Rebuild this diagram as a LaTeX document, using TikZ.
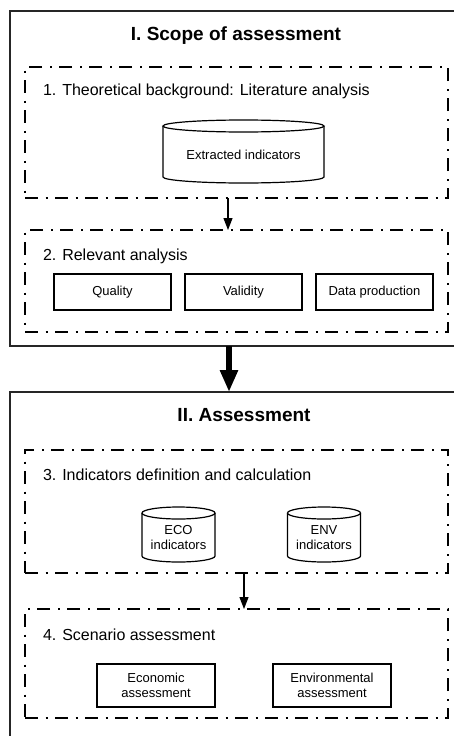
\documentclass[tikz,border=0pt]{standalone}
\usepackage{fontspec}
\setmainfont{Liberation Sans}
\usetikzlibrary{arrows.meta}
\newcommand{\drawcyl}[2]{%
  \draw[boxline] (#1.north west) -- ([yshift=6pt]#1.south west)
    arc[start angle=180,end angle=360,x radius=#2,y radius=6pt]
    -- (#1.north east);
  \draw[boxline,fill=white] (#1.north) ellipse[x radius=#2,y radius=6pt];}
\begin{document}
\begin{tikzpicture}[x=1pt,y=-1pt,
  every node/.style={inner sep=0pt,outer sep=0pt},
  frame/.style={draw=black!85,line width=1.4pt,anchor=north west},
  region/.style={draw=black,line width=1.4pt,dash pattern=on 13pt off 7.5pt on 2pt off 7.5pt,anchor=north west},
  boxline/.style={draw=black,line width=1.2pt},
  proc/.style={boxline,minimum width=117pt,minimum height=36pt,font=\fontsize{13}{15.5}\selectfont,align=center},
  cyl/.style={font=\fontsize{13}{15.5}\selectfont,align=center},
  head/.style={font=\fontsize{19}{22}\selectfont\bfseries},
  lab/.style={anchor=west,font=\fontsize{16}{19}\selectfont},
  arr/.style={-{Triangle[length=12pt,width=9pt]},line width=1.2pt},
  bigarr/.style={-{Triangle[length=22pt,width=17pt]},line width=6pt}]
\useasboundingbox (0,0) rectangle (454,736);
\clip (0,0) rectangle (454,736);
% outer frames
\node[frame,minimum width=470pt,minimum height=335pt] (S1) at (10,11) {};
\node[frame,minimum width=470pt,minimum height=380pt] (S2) at (10,392) {};
\node[head] (t1) at (236,36) {I. Scope of assessment};
\node[head] (t2) at (244,415) {II. Assessment};
% dashed regions
\node[region,minimum width=423pt,minimum height=131pt] (b1) at (25,67) {};
\node[region,minimum width=423pt,minimum height=102pt] (b2) at (25,230) {};
\node[region,minimum width=423pt,minimum height=123pt] (b3) at (25,450) {};
\node[region,minimum width=423pt,minimum height=109pt] (b4) at (25,609) {};
\node[lab] (l1) at (43,91) {1. Theoretical background: Literature analysis};
\node[lab] (l2) at (43,256) {2. Relevant analysis};
\node[lab] (l3) at (43,475) {3. Indicators definition and calculation};
\node[lab] (l4) at (43,635) {4. Scenario assessment};
% cylinders
\node[cyl,minimum width=161pt,minimum height=57pt] (ext) at (243.5,154.5) {Extracted indicators};
\drawcyl{ext}{80.5pt}
\node[cyl,minimum width=73pt,minimum height=49pt] (eco) at (178.5,537.5) {ECO\\indicators};
\drawcyl{eco}{36.5pt}
\node[cyl,minimum width=73pt,minimum height=49pt] (env) at (324,537.5) {ENV\\indicators};
\drawcyl{env}{36.5pt}
% boxes
\node[proc] (q) at (112.5,292) {Quality};
\node[proc] (v) at (243.5,292) {Validity};
\node[proc] (d) at (374.5,292) {Data production};
\node[proc,minimum width=118pt,minimum height=43pt] (ea) at (156,685.5) {Economic\\assessment};
\node[proc,minimum width=118pt,minimum height=43pt] (na) at (332,685.5) {Environmental\\assessment};
% connectors
\draw[arr] (b1.south -| 228,0) -- (b2.north -| 228,0);
\draw[arr] (b3.south -| 244,0) -- (b4.north -| 244,0);
\draw[bigarr] (S1.south -| 229,0) -- (S2.north -| 229,0);
\end{tikzpicture}
\end{document}
